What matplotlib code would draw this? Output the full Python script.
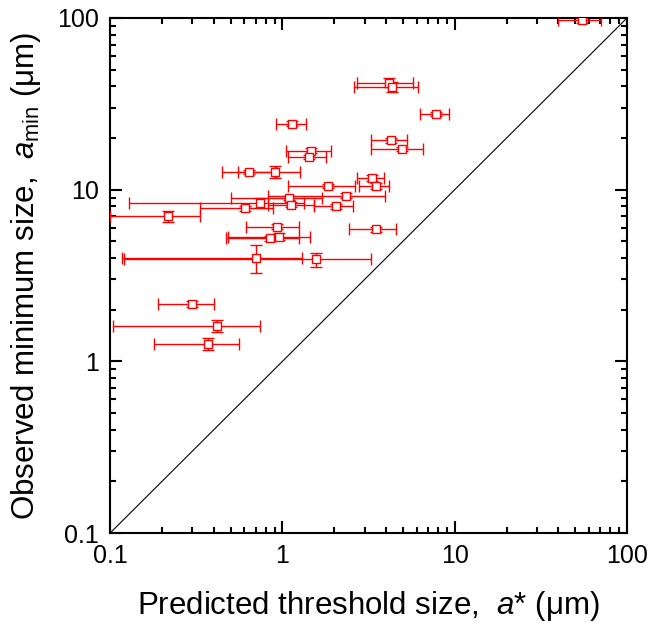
import matplotlib
matplotlib.use("Agg")
import matplotlib.pyplot as plt
import numpy as np
from matplotlib.ticker import LogLocator, NullFormatter

plt.rcParams['font.family'] = ['Liberation Sans', 'DejaVu Sans']
plt.rcParams['mathtext.fontset'] = 'custom'
plt.rcParams['mathtext.rm'] = 'Liberation Sans'
plt.rcParams['mathtext.it'] = 'Liberation Sans:italic'

# Predicted threshold size a* (um): value, lower, upper
a_star = [55, 4.18, 4.33, 7.77, 1.14, 4.27, 4.91, 1.47, 1.42, 0.643, 0.91,
          3.30, 1.84, 3.48, 2.35, 1.09, 0.736, 1.12, 2.04, 0.608, 0.216,
          0.93, 3.48, 0.96, 0.85, 0.703, 1.57, 0.298, 0.416, 0.369]
a_star_lo = [40, 2.70, 2.61, 6.27, 0.916, 3.26, 3.26, 1.05, 1.07, 0.445, 0.55,
             2.72, 1.07, 2.80, 0.82, 0.50, 0.128, 0.82, 1.53, 0.333, 0.1,
             0.615, 2.42, 0.48, 0.47, 0.117, 0.12, 0.19, 0.104, 0.18]
a_star_hi = [71, 5.69, 6.10, 9.31, 1.37, 5.29, 6.53, 1.92, 1.79, 0.92, 1.27,
             3.89, 2.64, 4.18, 3.92, 1.69, 1.34, 1.53, 2.58, 0.887, 0.333,
             1.245, 4.55, 1.44, 1.24, 1.30, 3.26, 0.403, 0.736, 0.56]
# Observed minimum size a_min (um): value, lower, upper
a_min = [97, 42, 39.8, 27.5, 24.2, 19.4, 17.3, 16.9, 15.5, 12.7, 12.7,
         11.7, 10.5, 10.5, 9.19, 8.95, 8.33, 8.18, 8.0, 7.8, 7.0,
         6.09, 5.88, 5.33, 5.2, 4.02, 3.93, 2.16, 1.61, 1.26]
a_min_lo = [94, 39.5, 37.0, 26.7, 23.4, 18.8, 16.8, 16.3, 15.0, 12.3, 11.7,
            11.3, 10.2, 10.1, 8.9, 8.7, 7.8, 7.9, 7.75, 7.55, 6.5,
            5.9, 5.7, 5.1, 5.05, 3.26, 3.56, 2.08, 1.49, 1.16]
a_min_hi = [100, 44.6, 42.6, 28.3, 25.0, 20.0, 17.8, 17.5, 16.0, 13.1, 13.8,
            12.1, 10.8, 10.9, 9.5, 9.2, 8.9, 8.45, 8.25, 8.05, 7.5,
            6.3, 6.05, 5.6, 5.35, 4.76, 4.30, 2.24, 1.74, 1.37]

x = np.array(a_star); y = np.array(a_min)
xerr = np.array([x - np.array(a_star_lo), np.array(a_star_hi) - x])
yerr = np.array([y - np.array(a_min_lo), np.array(a_min_hi) - y])

fig = plt.figure(figsize=(6.48, 6.29), dpi=100)
ax = fig.add_axes([0.17, 0.1526, 0.7976, 0.8188])

ax.plot([0.1, 100], [0.1, 100], color='black', lw=0.8)
ax.errorbar(x, y, xerr=xerr, yerr=yerr, fmt='s', ms=6.3, mfc='white',
            mec='red', mew=1.0, ecolor='red', elinewidth=1.0, capsize=4,
            capthick=1.0, zorder=3)

ax.set_xscale('log'); ax.set_yscale('log')
ax.set_xlim(0.1, 100); ax.set_ylim(0.1, 100)
ticks = [0.1, 1, 10, 100]
labels = ['0.1', '1', '10', '100']
ax.set_xticks(ticks); ax.set_xticklabels(labels)
ax.set_yticks(ticks); ax.set_yticklabels(labels)
ax.xaxis.set_minor_locator(LogLocator(base=10, subs=np.arange(2, 10)))
ax.yaxis.set_minor_locator(LogLocator(base=10, subs=np.arange(2, 10)))
ax.xaxis.set_minor_formatter(NullFormatter())
ax.yaxis.set_minor_formatter(NullFormatter())
ax.tick_params(which='both', direction='in', top=True, right=True, width=1.5)
ax.tick_params(which='major', length=8.5, labelsize=18, pad=8)
ax.tick_params(which='minor', length=4.3)
for s in ax.spines.values():
    s.set_linewidth(1.5)

ax.set_xlabel('Predicted threshold size,  $a$* (μm)', fontsize=22.5, labelpad=15)
ax.set_ylabel('Observed minimum size,  $a_{\\mathrm{min}}$ (μm)', fontsize=22.5, labelpad=10)

fig.savefig('out.png', dpi=100)
